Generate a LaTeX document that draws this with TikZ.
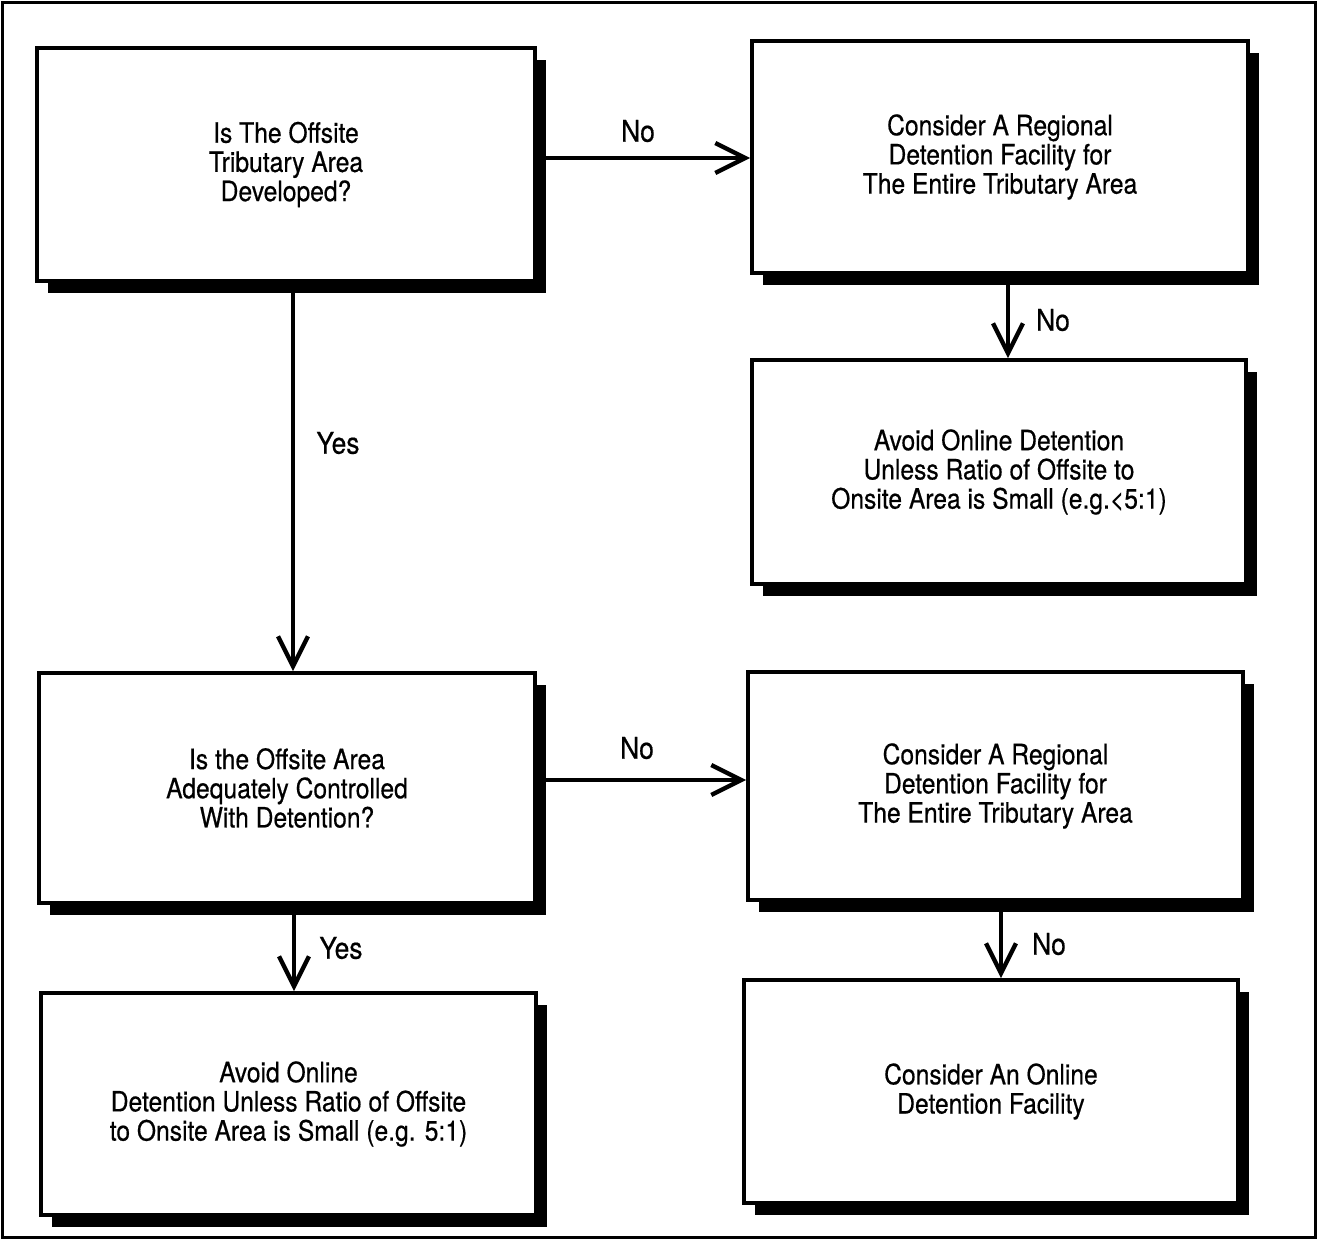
\documentclass[tikz,border=0pt]{standalone}
\usepackage{fontspec}
\setmainfont{TeX Gyre Heros}[FakeStretch=0.88,FakeBold=0.5]
\usetikzlibrary{arrows.meta,shadows}
\begin{document}
\begin{tikzpicture}[x=0.5pt,y=-0.5pt,
  box/.style={draw=black, line width=1.8pt, fill=white, align=center,
    font=\fontsize{14}{14.6}\selectfont,
    drop shadow={shadow xshift=5.5pt, shadow yshift=-6pt, fill=black, opacity=1}},
  arr/.style={line width=1.8pt, -{Straight Barb[length=15pt,width=15pt,line width=2.2pt]}},
  lab/.style={font=\fontsize{15}{15}\selectfont, inner sep=0pt}]
\useasboundingbox (0,0) rectangle (1319,1241);
\draw[line width=1.6pt] (2.5,2.5) rectangle (1315.5,1237.5);

\node[box, minimum width=249pt, minimum height=116.5pt] (A) at (286,164.5)
  {Is The Offsite\\Tributary Area\\Developed?};
\node[box, minimum width=248pt, minimum height=116pt] (B) at (1000,157)
  {Consider A Regional\\Detention Facility for\\The Entire Tributary Area};
\node[box, minimum width=247pt, minimum height=112pt] (C) at (999,472)
  {Avoid Online Detention\\Unless Ratio of Offsite to\\Onsite Area is Small (e.g.<5:1)};
\node[box, minimum width=248pt, minimum height=115pt] (D) at (287,788)
  {Is the Offsite Area\\Adequately Controlled\\With Detention?};
\node[box, minimum width=247.5pt, minimum height=114pt] (E) at (995.5,786)
  {Consider A Regional\\Detention Facility for\\The Entire Tributary Area};
\node[box, minimum width=247pt, minimum height=111.5pt] (F) at (991,1091.5)
  {Consider An Online\\Detention Facility};
\node[box, minimum width=247.5pt, minimum height=111pt] (G) at (288.5,1104)
  {Avoid Online\\Detention Unless Ratio of Offsite\\to Onsite Area is Small (e.g. 5:1)};

\coordinate (ab) at (0,158);
\coordinate (ad) at (293,0);
\coordinate (bc) at (1008,0);
\coordinate (de) at (0,780);
\coordinate (dg) at (294,0);
\coordinate (ef) at (1001,0);

\draw[arr] (A.east |- ab) -- (B.west |- ab);
\draw[arr] (A.south -| ad) -- (D.north -| ad);
\draw[arr] (B.south -| bc) -- (C.north -| bc);
\draw[arr] (D.east |- de) -- (E.west |- de);
\draw[arr] (D.south -| dg) -- (G.north -| dg);
\draw[arr] (E.south -| ef) -- (F.north -| ef);

\node[lab] (l1) at (638,131) {No};
\node[lab] (l2) at (338,443) {Yes};
\node[lab] (l3) at (1053,320) {No};
\node[lab] (l4) at (637,748) {No};
\node[lab] (l5) at (341,948) {Yes};
\node[lab] (l6) at (1049,944) {No};
\end{tikzpicture}
\end{document}
